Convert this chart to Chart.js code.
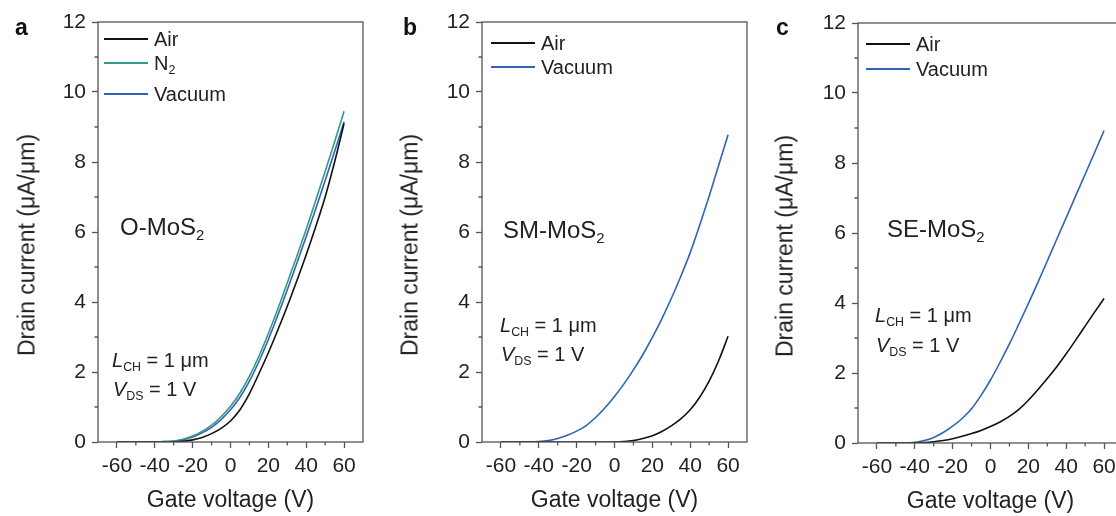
<!DOCTYPE html>
<html>
<head>
<meta charset="utf-8">
<script src="https://cdn.jsdelivr.net/npm/chart.js@4.4.1/dist/chart.umd.min.js"></script>
<style>
  body { margin: 0; background: #fff; }
  #fig { position: relative; width: 1116px; height: 516px; overflow: hidden;
         font-family: 'Liberation Sans', Arial, sans-serif; color: #222; }
  #fig canvas { position: absolute; }
  .txt { position: absolute; white-space: nowrap; line-height: 1; }
  .letter { font-weight: bold; font-size: 23px; color: #111; }
  .name { font-size: 24px; }
  .cond { font-size: 20px; }
  .ytitle { font-size: 23px; transform: translate(-50%, -50%) rotate(-90deg); }
  sub { font-size: 0.62em; vertical-align: -0.35em; line-height: 0; }
  .leg { position: absolute; display: flex; align-items: center; height: 24px;
         font-size: 20px; white-space: nowrap; }
  .leg i { display: block; width: 44px; height: 1.6px; margin-right: 6px; }
</style>
</head>
<body>
<div id="fig">
  <canvas id="chartA" width="372" height="516" style="left:0;top:0"></canvas>
  <canvas id="chartB" width="372" height="516" style="left:384px;top:0"></canvas>
  <canvas id="chartC" width="372" height="516" style="left:760px;top:1px"></canvas>

  <div class="txt letter" style="left:15px;top:16px">a</div>
  <div class="txt letter" style="left:403px;top:16px">b</div>
  <div class="txt letter" style="left:776px;top:16px">c</div>

  <div class="txt ytitle" style="left:26.5px;top:245px">Drain current (μA/μm)</div>
  <div class="txt ytitle" style="left:409.5px;top:245px">Drain current (μA/μm)</div>
  <div class="txt ytitle" style="left:785px;top:246px">Drain current (μA/μm)</div>

  <div class="txt name" style="left:120px;top:215px">O-MoS<sub>2</sub></div>
  <div class="txt name" style="left:503px;top:218px">SM-MoS<sub>2</sub></div>
  <div class="txt name" style="left:887px;top:217px">SE-MoS<sub>2</sub></div>

  <div class="txt cond" style="left:112px;top:350px"><i>L</i><sub>CH</sub> = 1 μm</div>
  <div class="txt cond" style="left:113px;top:379px"><i>V</i><sub>DS</sub> = 1 V</div>
  <div class="txt cond" style="left:500px;top:315px"><i>L</i><sub>CH</sub> = 1 μm</div>
  <div class="txt cond" style="left:501px;top:344px"><i>V</i><sub>DS</sub> = 1 V</div>
  <div class="txt cond" style="left:875px;top:305px"><i>L</i><sub>CH</sub> = 1 μm</div>
  <div class="txt cond" style="left:876px;top:335px"><i>V</i><sub>DS</sub> = 1 V</div>
</div>

<script>
// gate voltage sweep (V)
const gateVoltage = [-60, -55, -50, -45, -40, -35, -30, -25, -20, -15, -10, -5, 0,
                     5, 10, 15, 20, 25, 30, 35, 40, 45, 50, 55, 60];

const xTicks = [-60, -40, -20, 0, 20, 40, 60];
const xMinorTicks = [-50, -30, -10, 10, 30, 50];
const yTicks = [0, 2, 4, 6, 8, 10, 12];
const yMinorTicks = [1, 3, 5, 7, 9, 11];

// drain current (uA/um)
const aAir    = [0, 0, 0, 0, 0, 0, 0.005, 0.02, 0.06, 0.13, 0.24, 0.39, 0.6,
                 0.92, 1.38, 1.95, 2.55, 3.2, 3.88, 4.6, 5.35, 6.15, 7.0, 8.0, 9.1];
const aN2     = [0, 0, 0, 0, 0, 0.01, 0.03, 0.08, 0.17, 0.3, 0.48, 0.72, 1.02,
                 1.4, 1.88, 2.45, 3.1, 3.8, 4.55, 5.3, 6.08, 6.9, 7.73, 8.58, 9.45];
const aVacuum = [0, 0, 0, 0, 0, 0.01, 0.02, 0.06, 0.14, 0.26, 0.42, 0.64, 0.92,
                 1.28, 1.74, 2.3, 2.93, 3.62, 4.35, 5.1, 5.87, 6.66, 7.47, 8.3, 9.15];

const bAir    = [0, 0, 0, 0, 0, 0, 0, 0, 0, 0, 0, 0, 0,
                 0.01, 0.04, 0.1, 0.18, 0.3, 0.46, 0.66, 0.92, 1.28, 1.74, 2.32, 3.02];
const bVacuum = [0, 0, 0, 0, 0.01, 0.04, 0.1, 0.19, 0.31, 0.47, 0.7, 0.98, 1.3,
                 1.66, 2.06, 2.5, 2.99, 3.52, 4.1, 4.73, 5.41, 6.19, 7.02, 7.9, 8.78];

const cAir    = [0, 0, 0, 0, 0, 0.01, 0.035, 0.07, 0.12, 0.19, 0.27, 0.36, 0.47,
                 0.6, 0.76, 0.96, 1.22, 1.52, 1.84, 2.18, 2.55, 2.94, 3.34, 3.74, 4.13];
const cVacuum = [0, 0, 0, 0, 0.02, 0.07, 0.16, 0.3, 0.48, 0.7, 0.98, 1.36, 1.8,
                 2.3, 2.83, 3.4, 3.98, 4.58, 5.2, 5.82, 6.44, 7.06, 7.68, 8.3, 8.93];

const AIR = '#111111', N2 = '#35988a', VAC = '#3063b2';
const axisColor = '#555';
const font = 'Liberation Sans, Arial, sans-serif';

// box around plot area + short outward minor ticks
const framePlugin = {
  id: 'frame',
  afterDraw(chart) {
    const { ctx, chartArea: a, scales: { x, y } } = chart;
    ctx.save();
    ctx.strokeStyle = axisColor;
    ctx.lineWidth = 1.3;
    ctx.strokeRect(a.left, a.top, a.right - a.left, a.bottom - a.top);
    ctx.beginPath();
    xMinorTicks.forEach(v => {
      const px = x.getPixelForValue(v);
      ctx.moveTo(px, a.bottom);
      ctx.lineTo(px, a.bottom + 3.5);
    });
    yMinorTicks.forEach(v => {
      const py = y.getPixelForValue(v);
      ctx.moveTo(a.left, py);
      ctx.lineTo(a.left - 3.5, py);
    });
    ctx.stroke();
    ctx.restore();
  }
};

function buildPanel(id, series) {
  return new Chart(document.getElementById(id), {
    type: 'line',
    data: {
      datasets: series.map(s => ({
        label: s.label,
        data: gateVoltage.map((v, i) => ({ x: v, y: s.values[i] })),
        borderColor: s.color,
        borderWidth: 1.6,
        pointRadius: 0,
        fill: false,
        cubicInterpolationMode: 'monotone'
      }))
    },
    options: {
      responsive: false,
      animation: false,
      layout: { padding: { top: 22, right: 9, left: 0, bottom: 0 } },
      plugins: { legend: { display: false }, tooltip: { enabled: false } },
      scales: {
        x: {
          type: 'linear', min: -70, max: 70,
          afterBuildTicks: s => { s.ticks = xTicks.map(v => ({ value: v })); },
          afterFit: s => { s.height = 74; },
          ticks: { color: '#222', padding: 6, font: { family: font, size: 21 },
                   callback: v => String(v) },
          grid: { drawOnChartArea: false, drawTicks: true, tickLength: 6,
                  tickColor: axisColor, tickWidth: 1.3 },
          border: { display: false },
          title: { display: true, text: 'Gate voltage (V)', color: '#222',
                   font: { family: font, size: 23 }, padding: { top: 0, bottom: 2 } }
        },
        y: {
          type: 'linear', min: 0, max: 12,
          afterBuildTicks: s => { s.ticks = yTicks.map(v => ({ value: v })); },
          afterFit: s => { s.width = 98; },
          ticks: { color: '#222', padding: 6, font: { family: font, size: 21 } },
          grid: { drawOnChartArea: false, drawTicks: true, tickLength: 6,
                  tickColor: axisColor, tickWidth: 1.3 },
          border: { display: false }
        }
      }
    },
    plugins: [framePlugin]
  });
}

// legend drawn inside the plot, taken from the chart's datasets
function addLegend(chart, left, rowsY) {
  const fig = document.getElementById('fig');
  chart.data.datasets.forEach((ds, i) => {
    const row = document.createElement('div');
    row.className = 'leg';
    row.style.left = left + 'px';
    row.style.top = (rowsY[i] - 12) + 'px';
    const label = ds.label.replace('₂', '<sub>2</sub>');
    row.innerHTML = '<i style="background:' + ds.borderColor + '"></i><span>' + label + '</span>';
    fig.appendChild(row);
  });
}

const chartA = buildPanel('chartA', [
  { label: 'Air', values: aAir, color: AIR },
  { label: 'N₂', values: aN2, color: N2 },
  { label: 'Vacuum', values: aVacuum, color: VAC }
]);
const chartB = buildPanel('chartB', [
  { label: 'Air', values: bAir, color: AIR },
  { label: 'Vacuum', values: bVacuum, color: VAC }
]);
const chartC = buildPanel('chartC', [
  { label: 'Air', values: cAir, color: AIR },
  { label: 'Vacuum', values: cVacuum, color: VAC }
]);

addLegend(chartA, 104, [39, 63, 94]);
addLegend(chartB, 491, [43, 67]);
addLegend(chartC, 866, [44, 69]);
</script>
</body>
</html>
